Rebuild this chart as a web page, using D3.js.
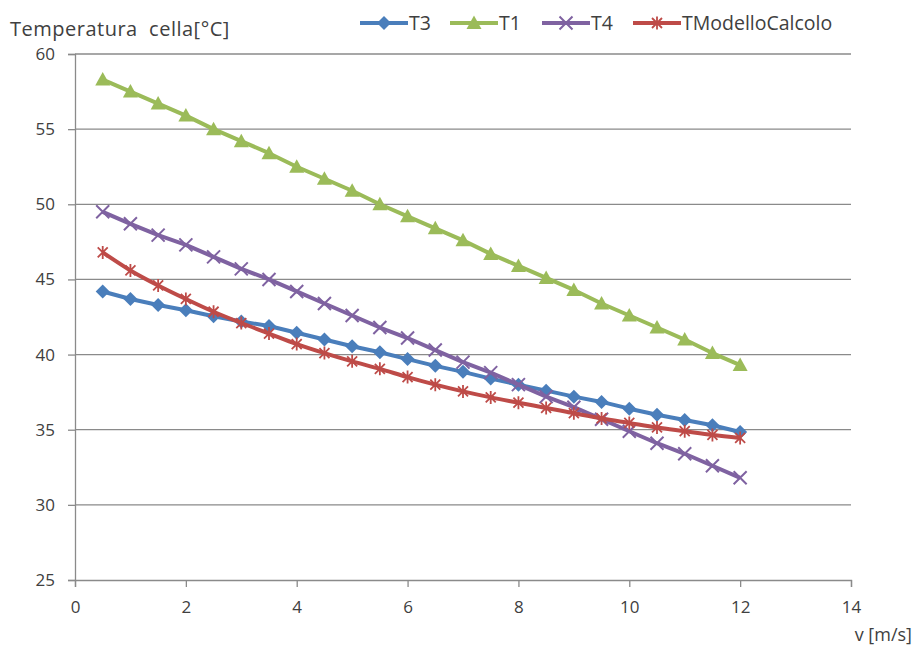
<!DOCTYPE html>
<html><head><meta charset="utf-8">
<script src="https://cdn.jsdelivr.net/npm/d3@7"></script>
<style>body{margin:0;background:#fff}svg{display:block}text{font-family:"Open Sans",sans-serif;fill:#404040}</style>
</head><body><svg id="c" width="917" height="648"></svg>
<script>
const vel = [0.5,1,1.5,2,2.5,3,3.5,4,4.5,5,5.5,6,6.5,7,7.5,8,8.5,9,9.5,10,10.5,11,11.5,12];
const T3 = [44.2,43.7,43.3,42.95,42.55,42.2,41.9,41.45,41.0,40.55,40.15,39.7,39.25,38.85,38.4,38.0,37.6,37.2,36.85,36.4,36.0,35.65,35.3,34.85];
const T1 = [58.3,57.5,56.7,55.9,55.0,54.2,53.4,52.5,51.7,50.9,50.0,49.2,48.4,47.6,46.7,45.9,45.1,44.3,43.4,42.6,41.8,41.0,40.1,39.3];
const T4 = [49.5,48.7,47.95,47.3,46.5,45.7,45.0,44.2,43.4,42.6,41.8,41.1,40.3,39.5,38.8,38.0,37.2,36.5,35.7,34.9,34.1,33.4,32.6,31.8];
const TMod = [46.8,45.6,44.6,43.7,42.85,42.1,41.4,40.7,40.1,39.55,39.05,38.5,38.0,37.55,37.15,36.8,36.45,36.1,35.75,35.45,35.15,34.9,34.65,34.45];
const seriesNames = ["T3","T1","T4","TModelloCalcolo"];
const colors = ["#4A7EBB","#9BBB59","#7F62A1","#BE4B48"];
const markers = ["diamond","triangle","x","star"];
const xTicks = [0,2,4,6,8,10,12,14];
const yTicks = [25,30,35,40,45,50,55,60];
const yTitle = "Temperatura\u00a0 cella[°C]";
const xTitle = "v [m/s]";

const svg = d3.select("#c");
const x = d3.scaleLinear().domain([0,14]).range([75,851]);
const y = d3.scaleLinear().domain([25,60]).range([580,54]);
const grid = "#8a8a8a";

svg.append("g").selectAll("line").data(yTicks.filter(d=>d>25)).join("line")
  .attr("x1",x(0)).attr("x2",x(14)).attr("y1",d=>y(d)).attr("y2",d=>y(d))
  .attr("stroke",grid).attr("stroke-width",1.3);

const ya = svg.append("g").attr("transform",`translate(${x(0)},0)`)
  .call(d3.axisLeft(y).tickValues(yTicks).tickSize(7).tickPadding(13));
ya.select(".domain").attr("stroke",grid).attr("stroke-width",1.3);
ya.selectAll(".tick line").attr("stroke",grid).attr("stroke-width",1.3);
ya.selectAll("text").style("font-size","17px").attr("fill","#404040");

const xa = svg.append("g").attr("transform",`translate(0,${y(25)})`)
  .call(d3.axisBottom(x).tickValues(xTicks).tickSize(7).tickPadding(14));
xa.select(".domain").attr("stroke",grid).attr("stroke-width",1.3);
xa.selectAll(".tick line").attr("stroke",grid).attr("stroke-width",1.3);
xa.selectAll("text").style("font-size","17px").attr("fill","#404040");

svg.append("text").attr("x",10).attr("y",35.5).style("font-size","20px").style("letter-spacing","0.5px").text(yTitle);
svg.append("text").attr("x",912).attr("y",641).attr("text-anchor","end").style("font-size","18px").text(xTitle);

function drawMarker(g, type, cx, cy, color){
  if(type==="diamond"){
    g.append("path").attr("d",`M${cx},${cy-7}L${cx+7},${cy}L${cx},${cy+7}L${cx-7},${cy}Z`).attr("fill",color);
  } else if(type==="triangle"){
    g.append("path").attr("d",`M${cx},${cy-7.5}L${cx+7.5},${cy+6}L${cx-7.5},${cy+6}Z`).attr("fill",color);
  } else if(type==="x"){
    g.append("path").attr("d",`M${cx-6.5},${cy-6.5}L${cx+6.5},${cy+6.5}M${cx-6.5},${cy+6.5}L${cx+6.5},${cy-6.5}`).attr("stroke",color).attr("stroke-width",2);
  } else {
    g.append("path").attr("d",`M${cx-5},${cy-5}L${cx+5},${cy+5}M${cx-5},${cy+5}L${cx+5},${cy-5}M${cx},${cy-6.5}L${cx},${cy+6.5}`).attr("stroke",color).attr("stroke-width",1.8);
  }
}

const data = [T3,T1,T4,TMod];
const line = d3.line().x((d,i)=>x(vel[i])).y(d=>y(d));
data.forEach((vals,k)=>{
  const g = svg.append("g");
  const lg = k===3 ? line.curve(d3.curveMonotoneX) : line.curve(d3.curveLinear);
  g.append("path").datum(vals).attr("d",lg).attr("fill","none").attr("stroke",colors[k]).attr("stroke-width",4).attr("stroke-linejoin","round");
  vals.forEach((v,i)=>drawMarker(g, markers[k], x(vel[i]), y(v), colors[k]));
});

const legX = [360,450,542,633];
const legY = 23;
seriesNames.forEach((n,k)=>{
  const g = svg.append("g");
  g.append("line").attr("x1",legX[k]).attr("x2",legX[k]+48).attr("y1",legY).attr("y2",legY).attr("stroke",colors[k]).attr("stroke-width",4);
  drawMarker(g, markers[k], legX[k]+24, legY, colors[k]);
  g.append("text").attr("x",legX[k]+49).attr("y",legY+7).style("font-size","19.5px").text(n);
});
</script></body></html>
